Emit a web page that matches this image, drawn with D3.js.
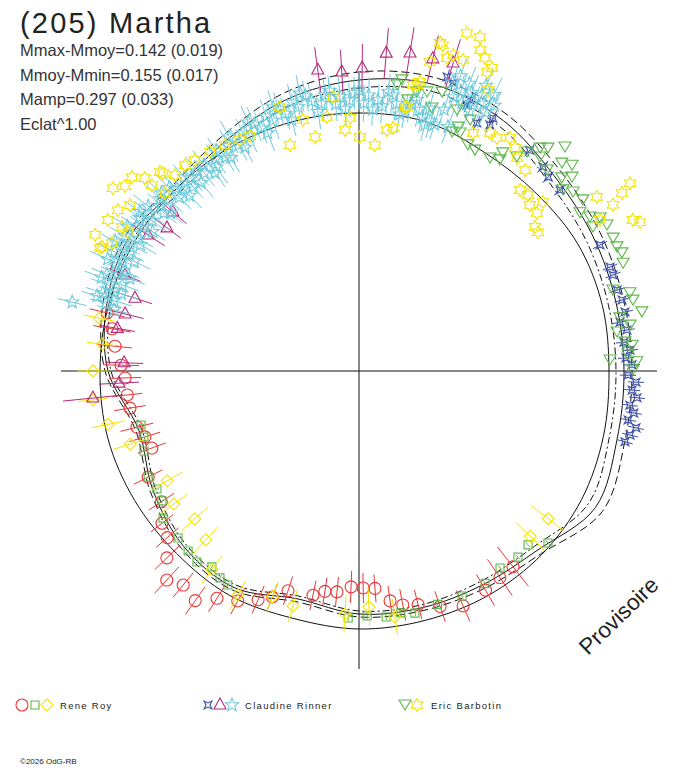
<!DOCTYPE html>
<html>
<head>
<meta charset="utf-8">
<script src="https://cdn.jsdelivr.net/npm/d3@7"></script>
<style>
  body { margin: 0; background: #fff; }
  svg { display: block; font-family: "Liberation Sans", Arial, sans-serif; }
</style>
</head>
<body>
<div id="chart"></div>
<script>
// rotation phase in degrees (clockwise from top), relative flux (1.0 = reference radius)
const curvePhases = [0, 15, 30, 45, 60, 75, 90, 105, 120, 135, 150, 165, 180, 195, 210, 225, 240, 255, 270, 285, 300, 315, 330, 345];
const fitSmooth = [1.032, 1.032, 1.008, 1.004, 1.012, 1.008, 1.000, 1.012, 1.028, 1.036, 1.036, 1.032, 1.032, 1.024, 1.036, 1.032, 1.036, 1.040, 1.036, 1.036, 1.036, 1.032, 1.032, 1.032];
const fitLow = [1.132, 1.156, 1.128, 1.072, 1.048, 1.032, 1.028, 1.036, 1.060, 0.992, 0.972, 0.968, 0.960, 0.932, 0.988, 0.980, 0.940, 0.900, 0.992, 1.028, 1.048, 1.012, 1.040, 1.096];
const fitMean = [1.164, 1.184, 1.156, 1.104, 1.080, 1.064, 1.060, 1.068, 1.092, 1.012, 0.988, 0.980, 0.972, 0.944, 1.000, 0.992, 0.952, 0.912, 1.004, 1.044, 1.064, 1.032, 1.064, 1.124];
const fitHigh = [1.196, 1.212, 1.184, 1.136, 1.112, 1.096, 1.092, 1.100, 1.124, 1.032, 1.004, 0.992, 0.984, 0.956, 1.012, 1.004, 0.964, 0.924, 1.016, 1.060, 1.080, 1.052, 1.088, 1.152];

// [phase, flux, error]
const royCircles = [
  [283.0, 1.034, 0.072], [279.7, 1.002, 0.076], [275.8, 0.981, 0.068], [271.4, 0.952, 0.072],
  [268.3, 0.936, 0.064], [264.1, 0.932, 0.060], [260.8, 0.928, 0.064], [255.8, 0.916, 0.068],
  [252.9, 0.896, 0.064], [249.6, 0.884, 0.060], [243.3, 0.944, 0.064], [236.5, 0.948, 0.060],
  [232.3, 0.996, 0.056], [229.0, 1.016, 0.060], [225.8, 1.072, 0.068], [222.6, 1.136, 0.072],
  [219.4, 1.108, 0.064], [215.5, 1.128, 0.068], [212.0, 1.072, 0.064], [207.8, 1.040, 0.060],
  [203.8, 1.000, 0.060], [201.0, 0.968, 0.056], [197.9, 0.924, 0.060], [191.6, 0.916, 0.060],
  [188.8, 0.892, 0.056], [185.7, 0.888, 0.060], [182.1, 0.864, 0.064], [178.9, 0.868, 0.060],
  [175.8, 0.872, 0.056], [172.3, 0.928, 0.060], [169.4, 0.952, 0.064], [165.8, 0.964, 0.060],
  [161.0, 0.996, 0.064], [156.1, 1.028, 0.068], [150.0, 1.012, 0.072], [145.7, 1.000, 0.088],
  [141.8, 0.996, 0.100]
];
const roySquares = [
  [256.1, 0.898, 0.012], [252.9, 0.900, 0.012], [249.6, 0.918, 0.012], [243.3, 0.944, 0.012],
  [239.7, 0.936, 0.012], [236.6, 0.944, 0.012], [233.1, 0.980, 0.012], [227.3, 0.985, 0.012],
  [223.5, 0.993, 0.012], [220.3, 1.002, 0.012], [216.9, 0.980, 0.012], [213.9, 0.997, 0.012],
  [211.5, 1.004, 0.012], [182.5, 0.989, 0.012], [178.1, 0.980, 0.012], [173.7, 0.990, 0.012],
  [170.2, 0.982, 0.012], [167.0, 0.994, 0.012], [161.4, 0.985, 0.012], [155.4, 0.990, 0.012],
  [149.3, 0.988, 0.012], [144.4, 0.969, 0.012], [139.5, 0.979, 0.012], [135.8, 0.970, 0.012],
  [132.3, 1.022, 0.012]
];
const royDiamonds = [
  [281.5, 1.060, 0.064], [276.0, 1.032, 0.064], [270.0, 1.064, 0.064], [263.8, 1.070, 0.060],
  [258.0, 1.026, 0.068], [252.3, 0.960, 0.072], [240.2, 0.884, 0.072], [234.3, 0.912, 0.068],
  [228.0, 0.884, 0.072], [222.2, 0.912, 0.072], [216.5, 0.988, 0.068], [208.4, 1.018, 0.064],
  [201.0, 0.968, 0.064], [195.7, 0.976, 0.068], [183.3, 0.974, 0.072], [177.6, 0.944, 0.076],
  [171.7, 0.994, 0.072], [134.0, 0.952, 0.080], [128.0, 0.960, 0.084]
];
const rinnerCrosses = [
  [16.7, 1.228, 0.032], [18.1, 1.212, 0.032], [22.1, 1.148, 0.032], [22.3, 1.172, 0.032],
  [25.4, 1.098, 0.032], [28.0, 1.115, 0.032], [27.9, 1.144, 0.032], [37.7, 1.116, 0.032],
  [42.0, 1.099, 0.032], [44.3, 1.084, 0.032], [48.0, 1.082, 0.032], [62.4, 1.088, 0.032],
  [67.5, 1.087, 0.032], [69.3, 1.086, 0.032], [72.6, 1.082, 0.032], [74.9, 1.090, 0.032],
  [77.5, 1.090, 0.032], [79.4, 1.062, 0.032], [81.3, 1.084, 0.032], [83.8, 1.066, 0.032],
  [85.6, 1.087, 0.032], [87.2, 1.069, 0.032], [88.7, 1.092, 0.032], [90.9, 1.076, 0.032],
  [92.3, 1.109, 0.032], [94.0, 1.095, 0.032], [95.5, 1.117, 0.032], [97.2, 1.092, 0.032],
  [98.7, 1.112, 0.032], [100.3, 1.094, 0.032], [101.6, 1.131, 0.032], [103.3, 1.114, 0.032],
  [104.9, 1.101, 0.032]
];
const rinnerTriangles = [
  [352.2, 1.215, 0.092], [356.7, 1.198, 0.088], [0.6, 1.212, 0.096], [4.9, 1.276, 0.100],
  [9.1, 1.288, 0.104], [13.3, 1.283, 0.096], [17.0, 1.288, 0.100], [310.5, 0.979, 0.072],
  [306.7, 0.958, 0.068], [302.8, 1.004, 0.080], [292.3, 1.012, 0.068], [288.0, 0.942, 0.072],
  [283.7, 0.963, 0.076], [280.0, 0.982, 0.072], [272.0, 0.940, 0.076], [267.1, 0.961, 0.080],
  [264.2, 1.070, 0.120]
];
const rinnerStars = [
  [283.5, 1.180, 0.060], [285, 1.048, 0.066], [286, 1.020, 0.074], [287, 1.072, 0.070],
  [288, 1.032, 0.062], [289, 1.056, 0.078], [290, 1.008, 0.070], [291, 1.080, 0.066],
  [292, 1.040, 0.074], [293, 1.024, 0.070], [294, 1.064, 0.062], [295, 1.044, 0.070],
  [296, 1.088, 0.074], [297, 1.032, 0.066], [298, 1.064, 0.070], [299, 1.048, 0.078],
  [300, 1.080, 0.070], [301, 1.028, 0.066], [303, 1.060, 0.074], [304, 1.036, 0.070],
  [305, 1.072, 0.062], [306, 1.024, 0.070], [307, 1.048, 0.074], [309, 1.004, 0.066],
  [310, 1.032, 0.070], [311, 1.052, 0.078], [312, 1.020, 0.070], [314, 1.000, 0.066],
  [315, 1.032, 0.074], [316, 1.012, 0.070], [318, 0.992, 0.062], [319, 1.024, 0.070],
  [320, 0.984, 0.074], [322, 1.004, 0.066], [323, 1.032, 0.070], [325, 0.996, 0.078],
  [326, 1.024, 0.070], [328, 1.008, 0.066], [330, 1.040, 0.074], [332, 1.024, 0.070],
  [334, 1.060, 0.062], [335, 1.036, 0.070], [337, 1.072, 0.074], [338, 1.048, 0.066],
  [340, 1.084, 0.070], [341, 1.060, 0.078], [343, 1.096, 0.070], [344, 1.072, 0.066],
  [346, 1.108, 0.074], [347, 1.084, 0.070], [349, 1.120, 0.062], [350, 1.096, 0.070],
  [352, 1.080, 0.074], [353, 1.112, 0.066], [355, 1.072, 0.070], [356, 1.100, 0.078],
  [358, 1.084, 0.070], [359, 1.112, 0.066], [1, 1.072, 0.074], [2, 1.104, 0.070],
  [4, 1.088, 0.062], [5, 1.064, 0.070], [7, 1.112, 0.074], [8, 1.080, 0.066],
  [10, 1.056, 0.070], [11, 1.092, 0.078], [13, 1.072, 0.070], [14, 1.048, 0.066],
  [15, 1.088, 0.074], [16, 1.040, 0.070], [17, 1.032, 0.062], [18, 1.216, 0.070],
  [19, 1.248, 0.074], [20, 1.192, 0.066], [21, 1.232, 0.070], [22, 1.200, 0.078],
  [23, 1.168, 0.070], [24, 1.208, 0.066], [25, 1.180, 0.074], [26, 1.152, 0.070],
  [27, 1.192, 0.062],
  [284, 1.010, 0.070], [286, 1.090, 0.066], [288, 1.000, 0.074], [290, 1.096, 0.070],
  [292, 0.990, 0.066], [294, 1.100, 0.078], [296, 1.000, 0.070], [298, 1.104, 0.066],
  [300, 1.010, 0.074], [302, 1.092, 0.070], [304, 0.996, 0.062], [306, 1.084, 0.070],
  [308, 1.070, 0.074], [310, 0.984, 0.066], [312, 1.064, 0.070], [314, 1.056, 0.078],
  [316, 0.976, 0.070], [318, 1.044, 0.066], [321, 1.030, 0.074], [324, 0.980, 0.070],
  [327, 1.050, 0.062], [329, 0.996, 0.070], [331, 1.070, 0.074], [333, 1.004, 0.066],
  [336, 1.090, 0.070], [339, 1.020, 0.078], [342, 1.110, 0.070], [345, 1.040, 0.066],
  [348, 1.136, 0.074], [351, 1.050, 0.070], [354, 1.128, 0.062], [357, 1.050, 0.070],
  [0, 1.124, 0.074], [3, 1.048, 0.066], [6, 1.124, 0.070], [9, 1.040, 0.078],
  [12, 1.110, 0.070], [15, 1.020, 0.066], [18, 1.100, 0.074], [20, 1.040, 0.070],
  [21, 1.150, 0.062], [24, 1.250, 0.070], [26, 1.230, 0.074], [19, 1.160, 0.066],
  [23, 1.130, 0.070]
];
// [phase, flux] (no error bars plotted)
const barbotinTriangles = [
  [8.4, 1.177], [7.6, 1.154], [10.2, 1.102], [11.7, 1.140], [13.7, 1.149], [15.5, 1.092],
  [16.6, 1.164], [20.6, 1.115], [21.3, 1.026], [23.0, 1.034], [23.9, 1.098], [25.7, 1.004],
  [31.6, 1.000], [33.7, 1.015], [36.4, 1.064], [22.1, 1.053], [27.7, 0.998], [33.4, 1.045],
  [37.5, 1.104], [39.1, 1.149], [40.3, 1.169], [42.6, 1.217], [40.2, 1.121], [43.1, 1.101],
  [44.3, 1.162], [46.0, 1.185], [46.4, 1.120], [47.7, 1.152], [48.4, 1.091], [50.1, 1.116],
  [52.6, 1.127], [54.4, 1.087], [56.3, 1.110], [57.6, 1.142], [58.4, 1.099], [59.5, 1.151],
  [62.4, 1.147], [64.3, 1.145], [65.8, 1.153], [67.8, 1.141], [72.3, 1.066], [73.9, 1.128],
  [75.5, 1.132], [78.2, 1.156], [78.5, 1.065], [81.4, 1.044], [80.4, 1.100], [83.8, 1.070],
  [84.6, 1.097], [87.5, 1.005], [86.6, 1.078], [88.1, 1.112], [89.8, 1.096]
];
const barbotinStars = [
  [306.6, 1.226], [308.3, 1.193], [303.7, 1.159], [301.0, 1.172], [295.4, 1.147], [297.4, 1.113],
  [301.0, 1.078], [305.9, 1.131], [312.0, 1.153], [315.0, 1.126], [316.8, 1.075], [319.8, 1.078],
  [322.1, 1.069], [325.8, 1.060], [329.3, 1.051], [332.7, 1.040], [335.1, 1.036], [310.5, 1.194],
  [311.9, 1.113], [315.3, 1.114], [297.3, 1.188], [301.3, 1.109], [312.5, 1.053], [295.8, 1.141],
  [343.0, 0.945], [349.4, 0.952], [356.7, 0.966], [4.0, 0.906], [0.2, 0.936], [6.6, 0.970],
  [8.0, 0.982], [358.0, 1.013], [352.8, 1.024], [347.4, 1.029], [354.6, 1.101], [343.3, 1.102],
  [10.3, 1.073], [11.5, 1.167], [12.9, 1.268], [13.9, 1.352], [16.6, 1.319], [17.7, 1.419],
  [19.9, 1.421], [14.4, 1.346], [20.7, 1.372], [21.9, 1.350], [15.7, 1.300], [18.5, 1.312],
  [23.7, 1.324], [23.2, 1.301], [24.7, 1.237], [11.9, 1.182], [10.7, 1.164], [9.9, 1.072],
  [25.6, 1.056], [28.8, 1.087], [30.6, 1.083], [32.9, 1.111], [35.0, 1.089], [36.6, 1.061],
  [39.6, 1.043], [41.7, 0.969], [43.8, 0.976], [45.8, 0.953], [48.4, 0.952], [47.4, 0.999],
  [50.7, 0.910], [52.2, 0.906], [53.8, 1.179], [56.8, 1.214], [55.9, 1.270], [55.3, 1.319],
  [61.1, 1.251], [62.1, 1.272], [57.9, 1.138]
];

const titleText = "(205) Martha";
const statLines = ["Mmax-Mmoy=0.142 (0.019)", "Mmoy-Mmin=0.155 (0.017)", "Mamp=0.297 (0.033)", "Eclat^1.00"];
const observers = ["Rene Roy", "Claudine Rinner", "Eric Barbotin"];
const axisExtent = 1.192;

const width = 688, height = 768;
const cx = 359, cy = 371;

const svg = d3.select("#chart").append("svg")
    .attr("width", width)
    .attr("height", height);

const angle = d3.scaleLinear().domain([0, 360]).range([0, 2 * Math.PI]);
const radius = d3.scaleLinear().domain([0, 1]).range([0, 250]);

// marker outlines
function starPath(n, outer, inner, rot) {
    let pts = [];
    for (let i = 0; i < 2 * n; i++) {
        let a = rot + i * Math.PI / n;
        pts.push(d3.pointRadial(a, i % 2 === 0 ? outer : inner));
    }
    return "M" + pts.map(p => p[0].toFixed(2) + "," + p[1].toFixed(2)).join("L") + "Z";
}
const shapes = {
    circle: "M6,0A6,6 0 1,1 -6,0A6,6 0 1,1 6,0Z",
    square: "M-4,-4H4V4H-4Z",
    diamond: "M0,-6L6,0L0,6L-6,0Z",
    cross4: starPath(4, 5.5, 2, Math.PI / 4),
    triUp: "M0,-7L6,4L-6,4Z",
    star5: starPath(5, 7, 2.9, 0),
    triDown: "M0,5L-6,-5L6,-5Z",
    star6: starPath(6, 6.5, 3.75, 0)
};

const series = [
    {data: royCircles, shape: "circle", color: "#ee3535"},
    {data: roySquares, shape: "square", color: "#5cb848"},
    {data: royDiamonds, shape: "diamond", color: "#f5e400"},
    {data: rinnerCrosses, shape: "cross4", color: "#3d4fa6"},
    {data: rinnerTriangles, shape: "triUp", color: "#b4287c"},
    {data: rinnerStars, shape: "star5", color: "#6fcadb"},
    {data: barbotinTriangles, shape: "triDown", color: "#5cb848"},
    {data: barbotinStars, shape: "star6", color: "#f5e400"}
];

const plot = svg.append("g").attr("transform", `translate(${cx},${cy})`);

// axes through the centre
plot.append("line")
    .attr("x1", -radius(axisExtent)).attr("x2", radius(axisExtent))
    .attr("y1", 0).attr("y2", 0)
    .attr("stroke", "#111").attr("stroke-width", 1);
plot.append("line")
    .attr("x1", 0).attr("x2", 0)
    .attr("y1", -radius(axisExtent)).attr("y2", radius(axisExtent))
    .attr("stroke", "#111").attr("stroke-width", 1);

// fitted curves
const curveLine = d3.lineRadial()
    .angle(d => angle(d[0]))
    .radius(d => radius(d[1]))
    .curve(d3.curveCatmullRomClosed.alpha(0.5));

const curves = [
    {values: fitSmooth, dash: null},
    {values: fitLow, dash: "7,3,2,3"},
    {values: fitMean, dash: null},
    {values: fitHigh, dash: "8,4"}
];
curves.forEach(c => {
    plot.append("path")
        .datum(curvePhases.map((p, i) => [p, c.values[i]]))
        .attr("d", curveLine)
        .attr("fill", "none")
        .attr("stroke", "#111")
        .attr("stroke-width", 1)
        .attr("stroke-dasharray", c.dash);
});

// observations
series.forEach(s => {
    let g = plot.append("g");
    g.selectAll(".err")
        .data(s.data.filter(d => d[2]))
        .join("line")
        .attr("class", "err")
        .each(function (d) {
            let p0 = d3.pointRadial(angle(d[0]), radius(d[1] - d[2]));
            let p1 = d3.pointRadial(angle(d[0]), radius(d[1] + d[2]));
            d3.select(this).attr("x1", p0[0]).attr("y1", p0[1]).attr("x2", p1[0]).attr("y2", p1[1]);
        })
        .attr("stroke", s.color)
        .attr("stroke-width", 1);
    g.selectAll(".mark")
        .data(s.data)
        .join("path")
        .attr("class", "mark")
        .attr("d", shapes[s.shape])
        .attr("transform", d => {
            let p = d3.pointRadial(angle(d[0]), radius(d[1]));
            return `translate(${p[0]},${p[1]})`;
        })
        .attr("fill", "none")
        .attr("stroke", s.color)
        .attr("stroke-width", 1.1);
});

// title and statistics
svg.append("text")
    .attr("x", 20).attr("y", 33)
    .attr("font-size", 29)
    .attr("letter-spacing", 2.2)
    .attr("fill", "#222")
    .text(titleText);

svg.selectAll(".stat")
    .data(statLines)
    .join("text")
    .attr("class", "stat")
    .attr("x", 20)
    .attr("y", (d, i) => [56, 81, 105, 130][i])
    .attr("font-size", 16.5)
    .attr("fill", "#333")
    .text(d => d);

// watermark
svg.append("text")
    .attr("transform", "translate(588,656) rotate(-44)")
    .attr("font-size", 22.5)
    .attr("fill", "#222")
    .text("Provisoire");

// legend
const legendY = 705;
const legendItems = [
    {x: 22, shape: "circle", color: "#ee3535"},
    {x: 35, shape: "square", color: "#5cb848"},
    {x: 47, shape: "diamond", color: "#f5e400"},
    {x: 208, shape: "cross4", color: "#3d4fa6"},
    {x: 220, shape: "triUp", color: "#b4287c"},
    {x: 232, shape: "star5", color: "#6fcadb"},
    {x: 405, shape: "triDown", color: "#5cb848"},
    {x: 417, shape: "star6", color: "#f5e400"}
];
svg.selectAll(".leg")
    .data(legendItems)
    .join("path")
    .attr("class", "leg")
    .attr("d", d => shapes[d.shape])
    .attr("transform", d => `translate(${d.x},${legendY})`)
    .attr("fill", "none")
    .attr("stroke", d => d.color)
    .attr("stroke-width", 1.1);

svg.selectAll(".legtext")
    .data(observers)
    .join("text")
    .attr("class", "legtext")
    .attr("x", (d, i) => [60, 245, 431][i])
    .attr("y", legendY + 3.5)
    .attr("font-size", 9.5)
    .attr("letter-spacing", 1.3)
    .attr("fill", "#222")
    .text(d => d);

svg.append("text")
    .attr("x", 20).attr("y", 764)
    .attr("font-size", 8)
    .attr("fill", "#222")
    .text("©2026 OdG-RB");
</script>
</body>
</html>
